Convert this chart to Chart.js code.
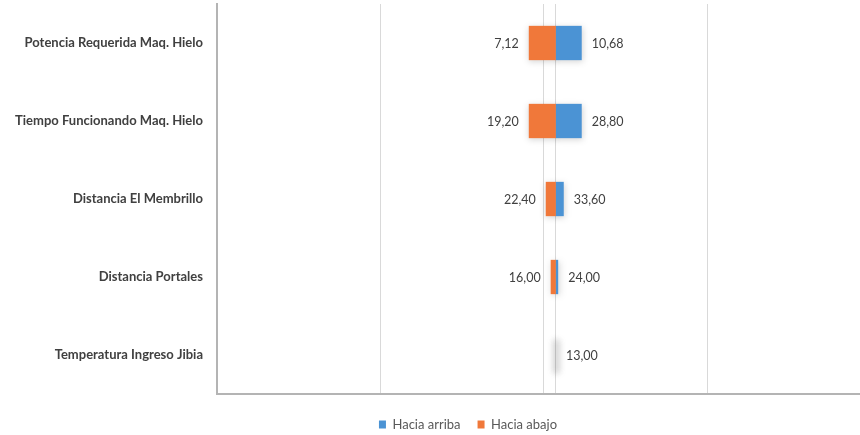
<!DOCTYPE html>
<html>
<head>
<meta charset="utf-8">
<script src="https://cdn.jsdelivr.net/npm/chart.js@4.4.1/dist/chart.umd.min.js"></script>
<style>
  html, body { margin: 0; padding: 0; background: #ffffff; overflow: hidden; }
  #wrap { width: 936px; height: 435px; position: relative; }
</style>
</head>
<body>
<div id="wrap"><canvas id="chart"></canvas></div>
<script>
// Variables analysed (top to bottom)
const categories = [
  'Potencia Requerida Maq. Hielo',
  'Tiempo Funcionando Maq. Hielo',
  'Distancia El Membrillo',
  'Distancia Portales',
  'Temperatura Ingreso Jibia'
];
// Result at the base case and at each variable's low / high setting
const baseResult = 103.7;
const resultLow  = [95.4, 95.4, 100.6, 102.1, 103.7];
const resultHigh = [111.6, 111.6, 106.1, 104.4, 103.7];
// Input values shown beside each bar
const inputLow  = ['7,12', '19,20', '22,40', '16,00', null];
const inputHigh = ['10,68', '28,80', '33,60', '24,00', '13,00'];
// Horizontal scale
const axisMin = 0, axisMax = 220, axisStep = 50;

const FONT = 'Lato, "Open Sans", sans-serif';

// Soft drop shadow behind every bar
const barShadow = {
  id: 'barShadow',
  beforeDatasetsDraw(chart) {
    const ctx = chart.ctx;
    ctx.save();
    ctx.filter = 'blur(3px)';
    chart.data.datasets.forEach((ds, di) => {
      const meta = chart.getDatasetMeta(di);
      meta.data.forEach(el => {
        const p = el.getProps(['x', 'y', 'base', 'height'], true);
        let x0 = Math.min(p.x, p.base), x1 = Math.max(p.x, p.base);
        if (x1 - x0 < 6) {
          const c = (x0 + x1) / 2; x0 = c - 3; x1 = c + 3;
          ctx.fillStyle = 'rgba(0,0,0,0.09)';
        } else {
          ctx.fillStyle = 'rgba(0,0,0,0.17)';
        }
        ctx.fillRect(x0, p.y - p.height / 2 + 1.5, x1 - x0 + 1, p.height);
      });
    });
    ctx.restore();
  }
};

// Input values written outside the bar ends
const inputLabels = {
  id: 'inputLabels',
  afterDatasetsDraw(chart) {
    const ctx = chart.ctx;
    const lowMeta = chart.getDatasetMeta(1);
    const highMeta = chart.getDatasetMeta(0);
    ctx.save();
    ctx.font = '12.5px ' + FONT;
    ctx.fillStyle = '#404040';
    ctx.textBaseline = 'middle';
    categories.forEach((c, i) => {
      const lo = lowMeta.data[i].getProps(['x', 'y', 'base'], true);
      const hi = highMeta.data[i].getProps(['x', 'y', 'base'], true);
      if (inputLow[i] !== null) {
        ctx.textAlign = 'right';
        ctx.fillText(inputLow[i], Math.min(lo.x, lo.base) - 10, lo.y + 1);
      }
      if (inputHigh[i] !== null) {
        ctx.textAlign = 'left';
        ctx.fillText(inputHigh[i], Math.max(hi.x, hi.base) + 10, hi.y + 1);
      }
    });
    ctx.restore();
  }
};

new Chart(document.getElementById('chart'), {
  type: 'bar',
  data: {
    labels: categories,
    datasets: [
      {
        label: 'Hacia arriba',
        data: resultHigh.map(v => [baseResult, v]),
        backgroundColor: '#4b93d4',
        grouped: false,
        barPercentage: 0.44,
        categoryPercentage: 1
      },
      {
        label: 'Hacia abajo',
        data: resultLow.map(v => [v, baseResult]),
        backgroundColor: '#f0783a',
        grouped: false,
        barPercentage: 0.44,
        categoryPercentage: 1
      }
    ]
  },
  options: {
    indexAxis: 'y',
    responsive: true,
    maintainAspectRatio: false,
    animation: false,
    layout: { padding: { left: 0, right: 0, top: 4, bottom: -6 } },
    plugins: {
      tooltip: { enabled: false },
      legend: {
        position: 'bottom',
        labels: {
          font: { family: FONT, size: 13 },
          color: '#595959',
          boxWidth: 7,
          boxHeight: 8,
          padding: 17
        }
      }
    },
    scales: {
      x: {
        min: axisMin,
        max: axisMax,
        ticks: { display: false, stepSize: axisStep },
        afterBuildTicks(scale) {
          scale.ticks.push({ value: baseResult });
          scale.ticks.sort((a, b) => a.value - b.value);
        },
        afterFit(scale) { scale.height += 7; },
        grid: { color: '#d9d9d9', lineWidth: 1, drawTicks: false },
        border: { color: '#b4b4b4', width: 2 }
      },
      y: {
        afterFit(scale) {
          scale.width = 217;
          scale.paddingTop = 0;
          scale.paddingBottom = 0;
        },
        ticks: {
          padding: 14,
          font: { family: FONT, size: 13, weight: 'bold' },
          color: '#404040'
        },
        grid: { display: false, drawTicks: false },
        border: { color: '#b4b4b4', width: 2 }
      }
    }
  },
  plugins: [barShadow, inputLabels]
});
</script>
</body>
</html>
